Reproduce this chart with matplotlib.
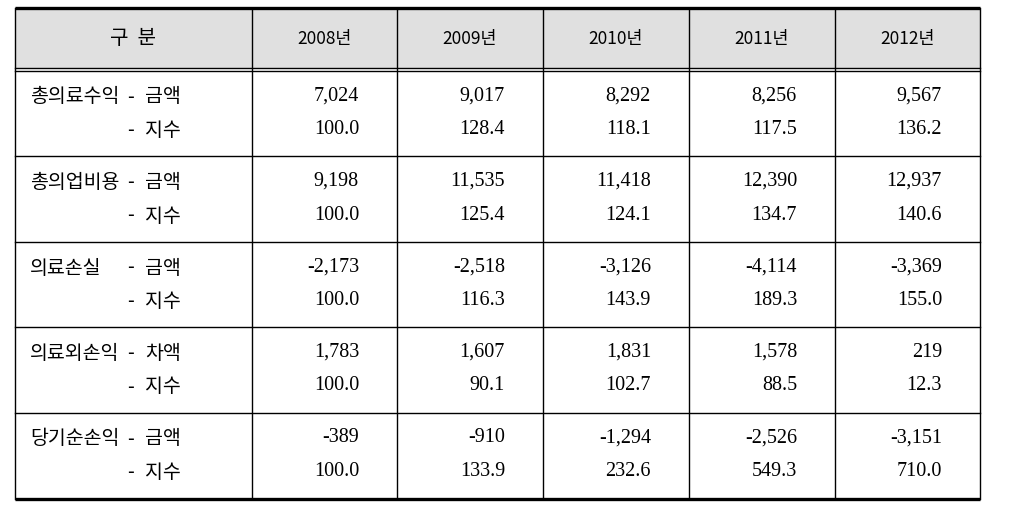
import matplotlib.pyplot as plt

# table contents
years = ["2008년", "2009년", "2010년", "2011년", "2012년"]
categories = ["총의료수익", "총의업비용", "의료손실", "의료외손익", "당기순손익"]
first_kind = ["금액", "금액", "금액", "차액", "금액"]
amounts = [
    [7024, 9017, 8292, 8256, 9567],
    [9198, 11535, 11418, 12390, 12937],
    [-2173, -2518, -3126, -4114, -3369],
    [1783, 1607, 1831, 1578, 219],
    [-389, -910, -1294, -2526, -3151],
]
indices = [
    [100.0, 128.4, 118.1, 117.5, 136.2],
    [100.0, 125.4, 124.1, 134.7, 140.6],
    [100.0, 116.3, 143.9, 189.3, 155.0],
    [100.0, 90.1, 102.7, 88.5, 12.3],
    [100.0, 133.9, 232.6, 549.3, 710.0],
]

kr = ["Noto Sans CJK KR", "DejaVu Sans"]
num_font = "Liberation Serif"

# layout in pixel units
col_x = [14.5, 252, 397, 543, 689, 835, 980]
head_top, head_bot = 8, 68
row_top = 71
row_h = 85.5
n_rows = len(categories)
tab_bot = row_top + row_h * n_rows

fig = plt.figure(figsize=(10.09, 5.11), dpi=100)
ax = fig.add_axes([0, 0, 1, 1])
ax.set_xlim(0, 1009)
ax.set_ylim(511, 0)
ax.axis("off")

# header background
ax.add_patch(plt.Rectangle((col_x[0], head_top), col_x[-1] - col_x[0], head_bot - head_top,
                           facecolor="#e0e0e0", edgecolor="none", zorder=0))

# horizontal rules
ax.plot([col_x[0], col_x[-1]], [head_top, head_top], color="black", lw=2.4, solid_capstyle="butt")
ax.plot([col_x[0], col_x[-1]], [head_bot, head_bot], color="black", lw=1.0)
ax.plot([col_x[0], col_x[-1]], [row_top, row_top], color="black", lw=1.0)
for i in range(1, n_rows):
    y = row_top + row_h * i
    ax.plot([col_x[0], col_x[-1]], [y, y], color="black", lw=1.0)
ax.plot([col_x[0], col_x[-1]], [tab_bot + 1, tab_bot + 1], color="black", lw=2.4, solid_capstyle="butt")

# vertical rules
for x in col_x:
    ax.plot([x, x], [head_top, tab_bot + 1], color="black", lw=1.0)

# header texts
hy = (head_top + head_bot) / 2 + 1
ax.text((col_x[0] + col_x[1]) / 2, hy, "구  분", family=kr, fontsize=14.5,
        ha="center", va="center")
for j, yr in enumerate(years):
    ax.text((col_x[j + 1] + col_x[j + 2]) / 2, hy, yr, family=kr, fontsize=12.5,
            ha="center", va="center")

# body
for i, cat in enumerate(categories):
    y1 = row_top + row_h * i + 26
    y2 = y1 + 33.5
    ax.text(30, y1, cat, family=kr, fontsize=14, ha="left", va="center")
    ax.text(127, y1, "-", family=kr, fontsize=14, ha="left", va="center")
    ax.text(145, y1, first_kind[i], family=kr, fontsize=14, ha="left", va="center")
    ax.text(127, y2, "-", family=kr, fontsize=14, ha="left", va="center")
    ax.text(145, y2, "지수", family=kr, fontsize=14, ha="left", va="center")
    for j in range(len(years)):
        xr = col_x[j + 2] - 38
        ax.text(xr, y1 - 1, f"{amounts[i][j]:,}", family=num_font, fontsize=14.5,
                ha="right", va="center")
        ax.text(xr, y2 - 1, f"{indices[i][j]:.1f}", family=num_font, fontsize=14.5,
                ha="right", va="center")

fig.savefig("out.png", dpi=100)
